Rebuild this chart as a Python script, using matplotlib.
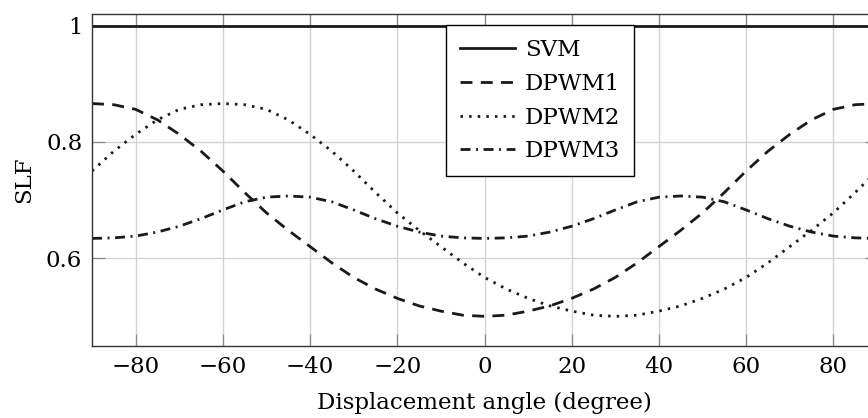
import matplotlib
matplotlib.use("Agg")
import matplotlib.pyplot as plt

# displacement angle in degrees
angle = [-90, -85, -80, -75, -70, -65, -60, -55, -50, -45, -40, -35, -30,
         -25, -20, -15, -10, -5, 0, 5, 10, 15, 20, 25, 30, 35, 40, 45, 50,
         55, 60, 65, 70, 75, 80, 85, 90]

svm = [1.0] * len(angle)

dpwm1 = [0.866, 0.864, 0.856, 0.838, 0.813, 0.784, 0.750, 0.713, 0.678,
         0.648, 0.620, 0.592, 0.567, 0.547, 0.531, 0.518, 0.509, 0.502,
         0.500, 0.502, 0.509, 0.518, 0.531, 0.547, 0.567, 0.592, 0.620,
         0.648, 0.678, 0.713, 0.750, 0.784, 0.813, 0.838, 0.856, 0.864, 0.866]

dpwm2 = [0.750, 0.784, 0.813, 0.838, 0.856, 0.864, 0.866, 0.864, 0.856,
         0.838, 0.813, 0.784, 0.750, 0.713, 0.678, 0.648, 0.620, 0.592,
         0.567, 0.547, 0.531, 0.518, 0.509, 0.502, 0.500, 0.502, 0.509,
         0.518, 0.531, 0.547, 0.567, 0.592, 0.620, 0.648, 0.678, 0.713, 0.750]

dpwm3 = [0.634, 0.635, 0.638, 0.645, 0.655, 0.668, 0.683, 0.697, 0.705,
         0.707, 0.705, 0.697, 0.683, 0.668, 0.655, 0.645, 0.638, 0.635,
         0.634, 0.635, 0.638, 0.645, 0.655, 0.668, 0.683, 0.697, 0.705,
         0.707, 0.705, 0.697, 0.683, 0.668, 0.655, 0.645, 0.638, 0.635, 0.634]

xticks = [-80, -60, -40, -20, 0, 20, 40, 60, 80]
yticks = [0.6, 0.8, 1.0]
yticklabels = ["0.6", "0.8", "1"]

plt.rcParams["font.family"] = ["DejaVu Serif"]
plt.rcParams["font.size"] = 16.5

fig = plt.figure(figsize=(8.68, 4.18), dpi=100)
# right edge of the axes runs past the figure, like in the reference
ax = fig.add_axes([92 / 868, 72 / 418, 785 / 868, 332 / 418])

lw = 2.0
ax.plot(angle, svm, color="#1a1a1a", lw=lw, label="SVM")
ax.plot(angle, dpwm1, color="#1a1a1a", lw=lw, dashes=(4.3, 3.0), label="DPWM1")
ax.plot(angle, dpwm2, color="#1a1a1a", lw=lw, dashes=(0.9, 2.2), label="DPWM2")
ax.plot(angle, dpwm3, color="#1a1a1a", lw=lw, dashes=(3.6, 2.0, 0.7, 2.0),
        label="DPWM3")

ax.set_xlim(-90, 90)
ax.set_ylim(0.449, 1.02)
ax.set_xticks(xticks)
ax.set_yticks(yticks)
ax.set_yticklabels(yticklabels)
ax.grid(True, color="#d2d2d2", lw=1.0)
ax.set_axisbelow(True)
ax.tick_params(direction="in", length=9, width=0.9, color="#8a8a8a",
               top=True, right=True, pad=7)
for s in ax.spines.values():
    s.set_color("#333333")
    s.set_linewidth(1.0)

ax.set_xlabel("Displacement angle (degree)", labelpad=10)
ax.set_ylabel("SLF", labelpad=8)

leg = ax.legend(loc="upper left", bbox_to_anchor=(0.451, 0.967),
                borderaxespad=0, fancybox=False, framealpha=1,
                edgecolor="black", handlelength=2.4, handletextpad=0.45,
                labelspacing=0.52, borderpad=0.6)
leg.get_frame().set_linewidth(1.0)

fig.savefig("out.png", dpi=100)
